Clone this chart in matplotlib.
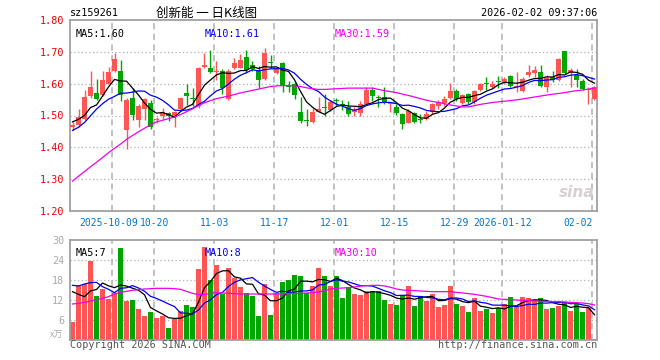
import matplotlib
matplotlib.use("Agg")
import matplotlib.pyplot as plt
import numpy as np
import pandas as pd

# candles, one per trading day (2025-09-22 .. 2026-02-02)
opens = [1.465, 1.47, 1.49, 1.56, 1.572, 1.565, 1.60, 1.64, 1.64, 1.455,
         1.555, 1.485, 1.52, 1.54, 1.485, 1.497, 1.507, 1.495, 1.52, 1.572,
         1.556, 1.53, 1.652, 1.65, 1.638, 1.64, 1.553, 1.648, 1.65, 1.683,
         1.658, 1.642, 1.615, 1.667, 1.633, 1.665, 1.597, 1.60, 1.512, 1.485,
         1.48, 1.512, 1.528, 1.518, 1.548, 1.535, 1.528, 1.51, 1.507, 1.535,
         1.58, 1.558, 1.559, 1.535, 1.526, 1.505, 1.478, 1.507, 1.49, 1.49,
         1.51, 1.53, 1.538, 1.555, 1.578, 1.54, 1.566, 1.542, 1.58, 1.602,
         1.59, 1.608, 1.604, 1.625, 1.59, 1.578, 1.626, 1.632, 1.638, 1.588,
         1.62, 1.612, 1.703, 1.633, 1.628, 1.608, 1.58, 1.553]
closes = [1.47, 1.495, 1.558, 1.59, 1.552, 1.61, 1.638, 1.677, 1.565, 1.55,
          1.50, 1.53, 1.552, 1.465, 1.49, 1.51, 1.497, 1.51, 1.555, 1.56,
          1.553, 1.65, 1.658, 1.638, 1.64, 1.585, 1.64, 1.665, 1.675, 1.642,
          1.645, 1.612, 1.695, 1.665, 1.647, 1.595, 1.59, 1.564, 1.483, 1.482,
          1.512, 1.52, 1.522, 1.543, 1.545, 1.533, 1.506, 1.518, 1.535, 1.58,
          1.562, 1.555, 1.538, 1.538, 1.509, 1.474, 1.515, 1.479, 1.485, 1.505,
          1.535, 1.541, 1.551, 1.578, 1.552, 1.563, 1.541, 1.578, 1.60, 1.60,
          1.60, 1.606, 1.615, 1.593, 1.593, 1.615, 1.638, 1.642, 1.594, 1.618,
          1.612, 1.677, 1.635, 1.643, 1.61, 1.583, 1.584, 1.588]
highs = [1.48, 1.52, 1.58, 1.64, 1.615, 1.64, 1.652, 1.695, 1.675, 1.555,
         1.585, 1.535, 1.556, 1.548, 1.495, 1.525, 1.51, 1.515, 1.558, 1.60,
         1.585, 1.652, 1.695, 1.707, 1.67, 1.645, 1.645, 1.68, 1.692, 1.707,
         1.67, 1.655, 1.713, 1.69, 1.652, 1.668, 1.607, 1.605, 1.558, 1.52,
         1.522, 1.558, 1.568, 1.548, 1.555, 1.55, 1.545, 1.528, 1.545, 1.59,
         1.59, 1.563, 1.589, 1.54, 1.537, 1.508, 1.52, 1.512, 1.506, 1.513,
         1.54, 1.548, 1.56, 1.601, 1.582, 1.567, 1.57, 1.58, 1.603, 1.62,
         1.607, 1.625, 1.62, 1.628, 1.637, 1.62, 1.659, 1.657, 1.658, 1.628,
         1.64, 1.68, 1.703, 1.65, 1.645, 1.615, 1.59, 1.592]
lows = [1.455, 1.465, 1.485, 1.555, 1.548, 1.56, 1.60, 1.638, 1.545, 1.395,
        1.485, 1.463, 1.485, 1.458, 1.475, 1.49, 1.483, 1.465, 1.515, 1.532,
        1.53, 1.525, 1.648, 1.635, 1.612, 1.568, 1.55, 1.645, 1.648, 1.635,
        1.64, 1.587, 1.612, 1.648, 1.63, 1.573, 1.575, 1.553, 1.478, 1.468,
        1.478, 1.51, 1.50, 1.515, 1.53, 1.516, 1.498, 1.497, 1.50, 1.533,
        1.545, 1.527, 1.535, 1.51, 1.503, 1.459, 1.476, 1.475, 1.475, 1.487,
        1.506, 1.52, 1.53, 1.552, 1.545, 1.535, 1.536, 1.536, 1.578, 1.58,
        1.585, 1.586, 1.60, 1.588, 1.575, 1.575, 1.622, 1.62, 1.59, 1.575,
        1.605, 1.607, 1.63, 1.59, 1.59, 1.58, 1.535, 1.55]

# volume in 10k
volumes = [5.5, 16.5, 16.8, 23.8, 13.2, 15.2, 12.3, 14.0, 27.7, 11.7,
           12.0, 9.3, 7.2, 8.5, 6.7, 7.3, 3.7, 6.2, 8.8, 10.5,
           9.9, 21.3, 28.0, 18.0, 22.6, 13.8, 21.6, 18.7, 16.0, 14.0,
           13.3, 7.3, 16.8, 7.5, 14.0, 17.4, 18.0, 19.5, 19.2, 14.2,
           16.3, 21.6, 19.2, 16.3, 19.3, 12.7, 15.8, 13.9, 13.5, 14.7,
           14.7, 14.7, 12.0, 10.9, 10.5, 13.4, 16.2, 10.2, 13.2, 11.8,
           13.9, 9.9, 10.5, 16.2, 10.8, 10.2, 8.4, 12.6, 8.7, 9.3,
           8.1, 9.6, 10.8, 12.9, 9.9, 12.9, 12.6, 12.0, 12.6, 9.3,
           9.6, 10.2, 11.1, 8.7, 10.8, 8.4, 9.6, 0.3]

# moving average values before enough history is on screen
ma5_head = [1.48, 1.488, 1.50, 1.525]
ma10_head = [1.453, 1.463, 1.478, 1.499, 1.52, 1.537, 1.551, 1.56, 1.57]
ma30 = [1.294, 1.309, 1.324, 1.339, 1.353, 1.368, 1.383, 1.397, 1.410, 1.425,
        1.437, 1.449, 1.46, 1.471, 1.48, 1.485, 1.49, 1.495, 1.503, 1.512,
        1.521, 1.531, 1.54, 1.547, 1.553, 1.557, 1.561, 1.566, 1.571, 1.575,
        1.579, 1.583, 1.587, 1.591, 1.593, 1.594, 1.594, 1.593, 1.591, 1.587,
        1.584, 1.582, 1.582, 1.583, 1.584, 1.585, 1.586, 1.586, 1.586, 1.586,
        1.586, 1.582, 1.578, 1.575, 1.572, 1.567, 1.563, 1.558, 1.553, 1.548,
        1.544, 1.541, 1.537, 1.533, 1.530, 1.527, 1.527, 1.531, 1.535, 1.538,
        1.541, 1.543, 1.545, 1.547, 1.549, 1.552, 1.555, 1.558, 1.561, 1.564,
        1.567, 1.569, 1.572, 1.575, 1.578, 1.58, 1.583, 1.586]
vma5_head = [14.5, 13.7, 13.0, 14.7]
vma10_head = [16.4, 16.2, 16.8, 17.2, 17.3, 16.0, 15.2, 14.2, 15.5]
vma30 = [10.8, 11.0, 11.3, 11.7, 12.1, 12.5, 13.0, 13.8, 14.3, 14.6,
         14.9, 15.1, 15.3, 15.4, 15.5, 15.5, 15.5, 15.4, 15.2, 14.6,
         14.0, 13.6, 13.6, 14.0, 14.2, 14.1, 14.0, 13.9, 13.8, 13.8,
         13.8, 13.8, 13.8, 13.8, 13.8, 13.8, 13.9, 14.0, 14.0, 14.1,
         14.2, 14.4, 14.8, 15.3, 15.5, 15.6, 15.7, 15.9, 16.2, 16.3,
         16.4, 16.4, 16.2, 15.8, 15.3, 15.0, 14.9, 14.8, 14.7, 14.6,
         14.5, 14.5, 14.5, 14.5, 14.3, 14.1, 13.9, 13.7, 13.4, 13.1,
         12.7, 12.3, 12.2, 12.1, 12.0, 11.9, 11.8, 11.7, 11.6, 11.6,
         11.5, 11.5, 11.4, 11.3, 11.2, 11.1, 10.9, 10.5]

tick_pos = [7, 14, 24, 34, 44, 54, 64, 72, 87]
tick_labels = ['2025-10-09', '10-20', '11-03', '11-17', '12-01',
               '12-15', '12-29', '2026-01-12', '02-02']
price_ticks = [1.20, 1.30, 1.40, 1.50, 1.60, 1.70, 1.80]
vol_ticks = [6, 12, 18, 24, 30]

RED = '#ff5555'
GREEN = '#00a600'
MONO = 'DejaVu Sans Mono'
CJK = ['Noto Sans CJK SC', 'DejaVu Sans']


def moving(values, n, head):
    out = pd.Series(values).rolling(n).mean().to_numpy()
    out[:n - 1] = head
    return out


o = np.array(opens)
c = np.array(closes)
h = np.array(highs)
l = np.array(lows)
v = np.array(volumes)
x = np.arange(len(c))
up = c >= o
colors = np.where(up, RED, GREEN)

fig = plt.figure(figsize=(6.6, 3.6), dpi=100)
W, H = 660, 360
ax = fig.add_axes([70 / W, 1 - 211 / H, 527 / W, 191 / H])
vax = fig.add_axes([70 / W, 1 - 340 / H, 527 / W, 100 / H])

for a in (ax, vax):
    a.set_xlim(-5 / 12, len(c) - 1 + 5 / 12)
    for s in a.spines.values():
        s.set_color('#a0a0a0')
        s.set_linewidth(1.3)
    for p in tick_pos:
        a.axvline(p - 0.37, color='#b0b0b0', lw=1.1, ls=(0, (4, 3)), zorder=1)
    a.set_xticks([])

# price panel
ax.set_ylim(1.20, 1.80)
ax.set_yticks(price_ticks)
ax.set_yticklabels(['%.2f' % t for t in price_ticks], family=MONO, fontsize=7.3)
ax.tick_params(axis='y', colors='#ee0000', length=0, pad=4)
for t in price_ticks[1:-1]:
    ax.axhline(t, color='#b0b0b0', lw=0.9, ls=(0, (1, 2)), zorder=1)

ax.vlines(x, l, h, colors=colors, lw=1, zorder=2)
ax.bar(x, np.maximum(np.abs(c - o), 0.003), bottom=np.minimum(o, c),
       width=5 / 6, color=colors, linewidth=0, zorder=3)

ax.plot(x, moving(c, 5, ma5_head), color='black', lw=0.9, zorder=4)
ax.plot(x, moving(c, 10, ma10_head), color='#0000ee', lw=0.9, zorder=4)
ax.plot(x, ma30, color='#ee00ee', lw=0.9, zorder=4)

ax.text(0.01, 0.955, 'MA5:1.60', transform=ax.transAxes, family=MONO,
        fontsize=7.3, color='black', va='top')
ax.text(0.255, 0.955, 'MA10:1.61', transform=ax.transAxes, family=MONO,
        fontsize=7.3, color='#0000ee', va='top')
ax.text(0.502, 0.955, 'MA30:1.59', transform=ax.transAxes, family=MONO,
        fontsize=7.3, color='#ee00ee', va='top')

# date labels: first one nudged left, last one kept inside the frame
for k, (p, lab) in enumerate(zip(tick_pos, tick_labels)):
    ha = 'center'
    px = p - 0.37
    if k == 0:
        px = p - 0.9
    if k == len(tick_pos) - 1:
        ha = 'right'
    ax.text(px, 1.20 - 0.021, lab, ha=ha, va='top', family=MONO,
            fontsize=7.0, color='#0077cc')

ax.text(0.995, 0.06, 'sina', transform=ax.transAxes, ha='right', va='bottom',
        fontsize=11, fontweight='bold', style='italic', color='#d8d0d0')

# volume panel
vax.set_ylim(0, 30)
vax.set_yticks(vol_ticks)
vax.set_yticklabels([str(t) for t in vol_ticks], family=MONO, fontsize=7.3)
vax.tick_params(axis='y', colors='#aaaaaa', length=0, pad=4)
for t in vol_ticks[:-1]:
    vax.axhline(t, color='#b0b0b0', lw=0.9, ls=(0, (1, 2)), zorder=1)
vax.bar(x, v, width=5 / 6, color=colors, linewidth=0, zorder=2)
vax.plot(x, moving(v, 5, vma5_head), color='black', lw=0.9, zorder=4)
vax.plot(x, moving(v, 10, vma10_head), color='#0000ee', lw=0.9, zorder=4)
vax.plot(x, vma30, color='#ee00ee', lw=0.9, zorder=4)
vax.text(0.01, 0.92, 'MA5:7', transform=vax.transAxes, family=MONO,
         fontsize=7.3, color='black', va='top')
vax.text(0.255, 0.92, 'MA10:8', transform=vax.transAxes, family=MONO,
         fontsize=7.3, color='#0000ee', va='top')
vax.text(0.502, 0.92, 'MA30:10', transform=vax.transAxes, family=MONO,
         fontsize=7.3, color='#ee00ee', va='top')
vax.text(-0.012, 0.0, 'x万', transform=vax.transAxes, ha='right', va='bottom',
         family=CJK, fontsize=6.5, color='#aaaaaa')

# header and footer
fig.text(70 / W, 1 - 16.5 / H, 'sz159261', family=MONO, fontsize=7.3,
         va='baseline', color='black')
fig.text(207 / W, 1 - 16.5 / H, '创新能 一 日K线图', family=CJK, fontsize=9,
         ha='center', va='baseline', color='black')
fig.text(597 / W, 1 - 16.5 / H, '2026-02-02 09:37:06', family=MONO,
         fontsize=7.3, ha='right', va='baseline', color='black')
fig.text(70 / W, 1 - 348 / H, 'Copyright 2026 SINA.COM', family=MONO,
         fontsize=7.3, va='baseline', color='#555555')
fig.text(597 / W, 1 - 348 / H, 'http://finance.sina.com.cn', family=MONO,
         fontsize=7.3, ha='right', va='baseline', color='#555555')

fig.savefig('out.png', dpi=100)
